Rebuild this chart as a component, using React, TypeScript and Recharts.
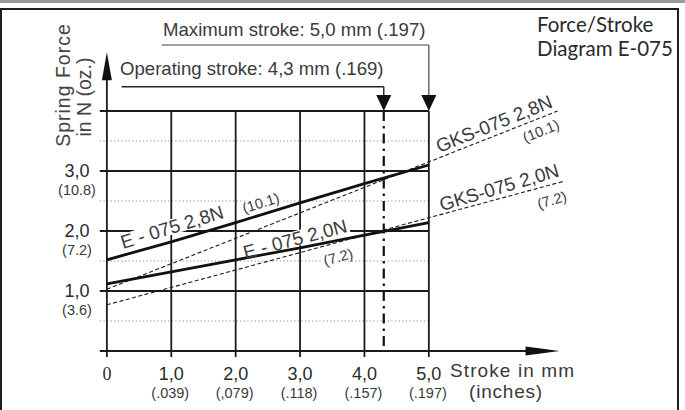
import React from 'react';
import { ComposedChart, Line, Scatter, XAxis, YAxis, ReferenceLine } from 'recharts';

// ---- tick labels ----
const strokeTicks = [0, 1, 2, 3, 4, 5];
const strokeTickMm = ['0', '1,0', '2,0', '3,0', '4,0', '5,0'];
const strokeTickInch = ['', '(.039)', '(,079)', '(.118)', '(.157)', '(.197)'];
const forceTicks = [1, 2, 3];
const forceTickN = ['1,0', '2,0', '3,0'];
const forceTickOz = ['(3.6)', '(7.2)', '(10.8)'];

// ---- series (stroke mm -> force N) ----
const e075_28 = [
  { x: 0, y: 1.52 }, { x: 1, y: 1.82 }, { x: 2, y: 2.14 },
  { x: 3, y: 2.47 }, { x: 4, y: 2.79 }, { x: 5, y: 3.1 },
];
const e075_20 = [
  { x: 0, y: 1.12 }, { x: 1, y: 1.32 }, { x: 2, y: 1.52 },
  { x: 3, y: 1.72 }, { x: 4, y: 1.93 }, { x: 5, y: 2.14 },
];
const gks075_28 = [{ x: 0, y: 1.03 }, { x: 7.0, y: 4.0 }];
const gks075_20 = [{ x: 0, y: 0.77 }, { x: 7.1, y: 2.83 }];

const operatingStroke = 4.3;
const maximumStroke = 5.0;
const gridForces = [1, 2, 3, 4];
const halfForces = [0.5, 1.5, 2.5, 3.5];
const gridStrokes = [1, 2, 3, 4, 5];

// ---- annotations ----
const lineLabels = [
  { x: 1.01, y: 2.07, text: 'E - 075 2,8N', angle: 17, size: 19 },
  { x: 2.39, y: 2.47, text: '(10.1)', angle: 17, size: 14.5 },
  { x: 2.92, y: 1.87, text: 'E - 075 2,0N', angle: 15, size: 19 },
  { x: 3.59, y: 1.57, text: '(7.2)', angle: 15, size: 14.5 },
  { x: 6.01, y: 3.79, text: 'GKS-075 2,8N', angle: 22, size: 19 },
  { x: 6.74, y: 3.67, text: '(10.1)', angle: 22, size: 14.5 },
  { x: 6.09, y: 2.73, text: 'GKS-075 2,0N', angle: 16.5, size: 19 },
  { x: 6.91, y: 2.52, text: '(7.2)', angle: 16, size: 14.5 },
];
const arrows = [
  { x: 0, y: 4.98, dir: 'up' },
  { x: 7.03, y: 0, dir: 'right' },
  { x: maximumStroke, y: 4.0, dir: 'down' },
  { x: operatingStroke, y: 4.0, dir: 'down' },
];

const ARIAL = 'Arial, "Liberation Sans", Helvetica, sans-serif';
const INK = '#2a2a2a';
const SOFT = '#3a3a3a';

const arialW: Record<string, number> = {
  ' ': 0.278, ',': 0.278, '.': 0.278, '(': 0.333, ')': 0.333, '-': 0.333,
  E: 0.667, N: 0.722, G: 0.778, K: 0.667, S: 0.667,
};
const textWidth = (t: string, size: number) =>
  t.split('').reduce((s, c) => s + (arialW[c] ?? 0.556), 0) * size;

const labelBg = (props: any) => {
  const { cx, cy, payload } = props;
  const w = textWidth(payload.text, payload.size);
  const h = payload.size * 0.8;
  return (
    <g transform={`translate(${cx},${cy}) rotate(${-payload.angle})`}>
      <rect x={-w / 2 - 2} y={-h / 2} width={w + 4} height={h} fill="#fff" />
    </g>
  );
};
const labelText = (props: any) => {
  const { cx, cy, payload } = props;
  return (
    <g transform={`translate(${cx},${cy}) rotate(${-payload.angle})`}>
      <text
        x={0}
        y={payload.size * 0.36}
        textAnchor="middle"
        fontFamily={ARIAL}
        fontSize={payload.size}
        fill={SOFT}
      >
        {payload.text}
      </text>
    </g>
  );
};
const arrowShape = (props: any) => {
  const { cx, cy, payload } = props;
  let d = '';
  if (payload.dir === 'up') d = `M${cx},${cy} L${cx - 5},${cy + 28} L${cx + 5},${cy + 28} Z`;
  else if (payload.dir === 'right') d = `M${cx},${cy} L${cx - 34},${cy - 4.5} L${cx - 34},${cy + 4.5} Z`;
  else d = `M${cx},${cy} L${cx - 7.5},${cy - 16} L${cx + 7.5},${cy - 16} Z`;
  return <path d={d} fill="#111" />;
};

const XTick = (props: any) => {
  const { x, payload } = props;
  const i = strokeTicks.indexOf(payload.value);
  if (i < 0) return null;
  return (
    <g>
      <text
        x={x}
        y={380}
        textAnchor="middle"
        fontFamily={i === 0 ? '"Liberation Serif", "Times New Roman", serif' : ARIAL}
        fontSize={18}
        fill={INK}
      >
        {strokeTickMm[i]}
      </text>
      {strokeTickInch[i] ? (
        <text x={x - 1} y={398} textAnchor="middle" fontFamily={ARIAL} fontSize={14.5} fill={SOFT}>
          {strokeTickInch[i]}
        </text>
      ) : null}
    </g>
  );
};
const YTick = (props: any) => {
  const { y, payload } = props;
  const i = forceTicks.indexOf(payload.value);
  if (i < 0) return null;
  return (
    <g>
      <text x={77} y={y + 6} textAnchor="middle" fontFamily={ARIAL} fontSize={18} fill={INK}>
        {forceTickN[i]}
      </text>
      <text x={77} y={y + 24} textAnchor="middle" fontFamily={ARIAL} fontSize={14.5} fill={SOFT}>
        {forceTickOz[i]}
      </text>
    </g>
  );
};

const GRID = { stroke: '#1a1a1a', strokeWidth: 1.8 };

export default function App() {
  return (
    <div
      style={{
        position: 'fixed', left: 0, top: 0, width: 685, height: 410,
        background: '#fff', overflow: 'hidden',
      }}
    >
      <div style={{ position: 'absolute', left: 0, top: 0, width: 685, height: 3, background: '#9a9a9a' }} />
      <div
        style={{
          position: 'absolute', left: 0, top: 8, width: 679, height: 430,
          border: '2px solid #1e1e1e', boxSizing: 'border-box',
        }}
      />
      <div style={{ position: 'absolute', left: 0, top: 0 }}>
        <ComposedChart width={685} height={410} margin={{ top: 21, right: 114.5, bottom: 0, left: 0 }}>
          <XAxis
            type="number"
            dataKey="x"
            domain={[-0.2, 7.2]}
            ticks={strokeTicks}
            interval={0}
            allowDataOverflow
            axisLine={false}
            tickLine={false}
            height={47}
            tick={XTick}
          />
          <YAxis
            type="number"
            dataKey="y"
            domain={[-0.2, 5.5]}
            ticks={forceTicks}
            interval={0}
            allowDataOverflow
            axisLine={false}
            tickLine={false}
            width={94}
            tick={YTick}
          />

          {/* dotted half lines */}
          {halfForces.map((f) => (
            <ReferenceLine
              key={'h' + f}
              segment={[{ x: -0.11, y: f }, { x: maximumStroke, y: f }]}
              stroke="#8a8a8a"
              strokeWidth={1.2}
              strokeDasharray="1.2 2.4"
              zIndex={100}
            />
          ))}
          {/* solid grid */}
          {gridForces.map((f) => (
            <ReferenceLine
              key={'g' + f}
              segment={[{ x: -0.11, y: f }, { x: maximumStroke, y: f }]}
              {...GRID}
              zIndex={100}
            />
          ))}
          {gridStrokes.map((s) => (
            <ReferenceLine
              key={'v' + s}
              segment={[{ x: s, y: -0.1 }, { x: s, y: 4 }]}
              {...GRID}
              zIndex={100}
            />
          ))}
          {/* axes */}
          <ReferenceLine segment={[{ x: -0.11, y: 0 }, { x: 6.6, y: 0 }]} {...GRID} zIndex={100} />
          <ReferenceLine segment={[{ x: 0, y: -0.1 }, { x: 0, y: 4.6 }]} {...GRID} zIndex={100} />

          {/* stroke annotations */}
          <ReferenceLine
            segment={[{ x: 0.85, y: 5.1 }, { x: maximumStroke, y: 5.1 }]}
            stroke="#444" strokeWidth={1.2} zIndex={100}
          />
          <ReferenceLine
            segment={[{ x: maximumStroke, y: 5.1 }, { x: maximumStroke, y: 4.2 }]}
            stroke="#444" strokeWidth={1.2} zIndex={100}
          />
          <ReferenceLine
            segment={[{ x: 0.23, y: 4.405 }, { x: operatingStroke, y: 4.405 }]}
            stroke="#222" strokeWidth={1.4} zIndex={100}
          />
          <ReferenceLine
            segment={[{ x: operatingStroke, y: 4.405 }, { x: operatingStroke, y: 4.2 }]}
            stroke="#222" strokeWidth={1.4} zIndex={100}
          />
          <ReferenceLine
            segment={[{ x: operatingStroke, y: 4.0 }, { x: operatingStroke, y: 0 }]}
            stroke="#111" strokeWidth={2.2} strokeDasharray="10 5 2.5 5" zIndex={100}
          />

          {/* white label backgrounds */}
          <Scatter data={lineLabels} shape={labelBg} isAnimationActive={false} zIndex={200} />

          {/* series */}
          <Line data={gks075_28} dataKey="y" type="linear" stroke="#1a1a1a" strokeWidth={1.1}
            strokeDasharray="4 2.5" dot={false} activeDot={false} isAnimationActive={false} zIndex={400} />
          <Line data={gks075_20} dataKey="y" type="linear" stroke="#1a1a1a" strokeWidth={1.1}
            strokeDasharray="4 2.5" dot={false} activeDot={false} isAnimationActive={false} zIndex={400} />
          <Line data={e075_28} dataKey="y" type="linear" stroke="#111" strokeWidth={2.8}
            dot={false} activeDot={false} isAnimationActive={false} zIndex={400} />
          <Line data={e075_20} dataKey="y" type="linear" stroke="#111" strokeWidth={2.8}
            dot={false} activeDot={false} isAnimationActive={false} zIndex={400} />

          {/* label texts and arrows */}
          <Scatter data={lineLabels} shape={labelText} isAnimationActive={false} zIndex={500} />
          <Scatter data={arrows} shape={arrowShape} isAnimationActive={false} zIndex={500} />
        </ComposedChart>
      </div>
      <svg
        width={685}
        height={410}
        style={{ position: 'absolute', left: 0, top: 0, pointerEvents: 'none' }}
      >
        <text x={163} y={36} fontFamily={ARIAL} fontSize={18.6} fill={SOFT}>
          Maximum stroke: 5,0 mm (.197)
        </text>
        <text x={120} y={74.5} fontFamily={ARIAL} fontSize={18.6} fill={SOFT}>
          Operating stroke: 4,3 mm (.169)
        </text>
        <text x={537} y={32} fontFamily='Lato, "Open Sans", sans-serif' fontSize={20.5} fill={INK}>
          Force/Stroke
        </text>
        <text x={537} y={56} fontFamily='Lato, "Open Sans", sans-serif' fontSize={20.5} fill={INK}>
          Diagram E-075
        </text>
        <text
          x={70} y={85} transform="rotate(-90, 70, 85)" textAnchor="middle"
          fontFamily={ARIAL} fontSize={19.5} letterSpacing={1} fill="#444"
        >
          Spring Force
        </text>
        <text
          x={91} y={97} transform="rotate(-90, 91, 97)" textAnchor="middle"
          fontFamily={ARIAL} fontSize={19.5} fill="#444"
        >
          in N (oz.)
        </text>
        <text x={450} y={377} fontFamily={ARIAL} fontSize={19} letterSpacing={1.1} fill={SOFT}>
          Stroke in mm
        </text>
        <text x={469} y={398} fontFamily={ARIAL} fontSize={19} letterSpacing={0.8} fill={SOFT}>
          (inches)
        </text>
      </svg>
    </div>
  );
}
